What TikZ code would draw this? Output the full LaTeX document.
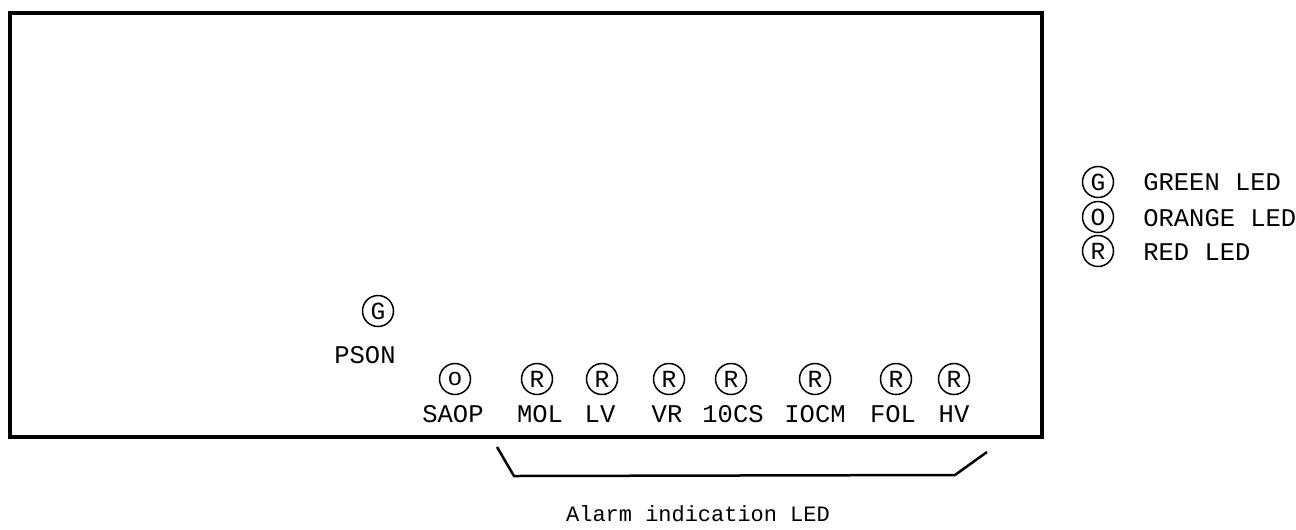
\documentclass[tikz,border=0pt]{standalone}
\usepackage{fontspec}
\setmonofont{Liberation Mono}

\tikzset{
  led/.style={draw, circle, line width = 0.3mm, minimum size = 0.62cm, inner sep = 0pt,
              font=\ttfamily\fontsize{14}{14}\selectfont},
  ledname/.style={font=\ttfamily\fontsize{14.5}{14.5}\selectfont, inner sep = 0pt},
}

\begin{document}
\begin{tikzpicture}[x=0.02cm, y=-0.02cm]
                    \useasboundingbox (0,0) rectangle (1296,529);

                    % front panel
                    \draw[line width = 0.7mm] (10,13) rectangle (1042,437);

                    % power on LED
                    \node[led] (pson) at (378,311) {G};
                    \node[ledname] (psonname) at (365,355) {PSON};

                    % alarm LEDs
                    \node[led] (saop) at (455,379) {o};
                    \node[led] (mol) at (537,379) {R};
                    \node[led] (lv) at (602,379) {R};
                    \node[led] (vr) at (669,379) {R};
                    \node[led] (iocs) at (731,379) {R};
                    \node[led] (iocm) at (815,379) {R};
                    \node[led] (fol) at (896,379) {R};
                    \node[led] (hv) at (954,379) {R};

                    \node[ledname] (saopname) at (453,414) {SAOP};
                    \node[ledname] (molname) at (540,414) {MOL};
                    \node[ledname] (lvname) at (600,414) {LV};
                    \node[ledname] (vrname) at (667,414) {VR};
                    \node[ledname] (iocsname) at (733,414) {10CS};
                    \node[ledname] (iocmname) at (815,414) {IOCM};
                    \node[ledname] (folname) at (893,414) {FOL};
                    \node[ledname] (hvname) at (954,414) {HV};

                    % bracket under the alarm LEDs
                    \coordinate (brleft) at (497,447);
                    \coordinate (brright) at (987,452);
                    \draw[line width = 0.5mm] (brleft) -- (514,476) -- (955,475) -- (brright);
                    \node[font=\ttfamily\fontsize{12.5}{12.5}\selectfont] (alarm) at (698,514) {Alarm indication LED};

                    % legend
                    \node[led] (greenled) at (1098,182) {G};
                    \node[led] (orangeled) at (1098,217) {O};
                    \node[led] (redled) at (1098,251) {R};
                    \node[ledname, anchor=west] (greentxt) at (1143,182) {GREEN LED};
                    \node[ledname, anchor=west] (orangetxt) at (1143,218) {ORANGE LED};
                    \node[ledname, anchor=west] (redtxt) at (1143,252) {RED LED};

                \end{tikzpicture}
\end{document}
